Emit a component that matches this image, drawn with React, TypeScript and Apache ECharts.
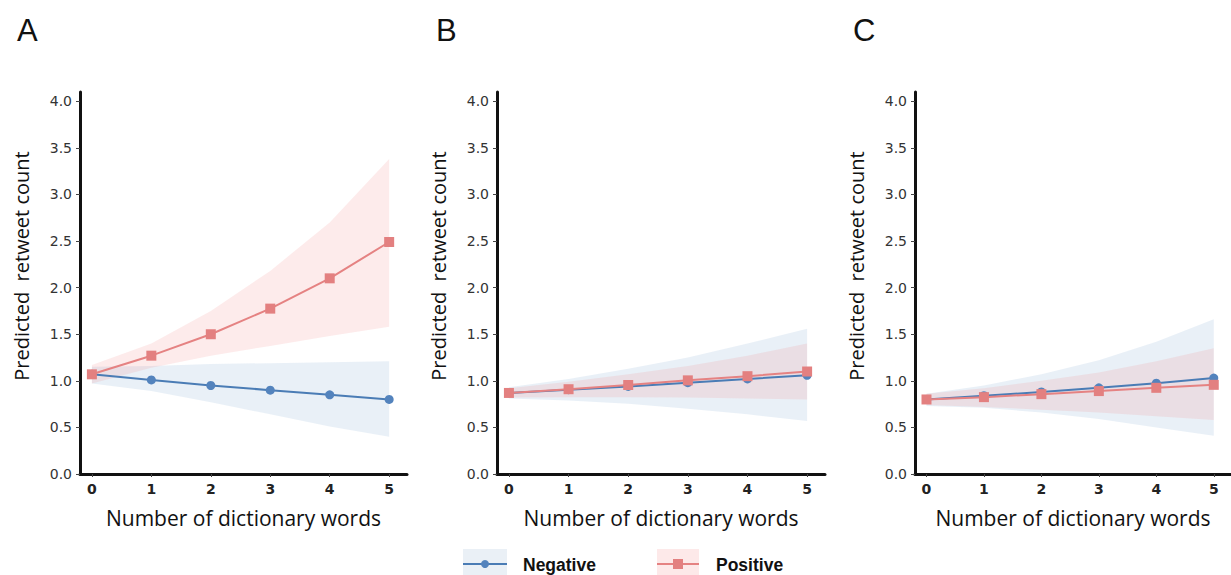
import React, { useEffect, useRef } from "react";
import * as echarts from "echarts";

const xValues = [0, 1, 2, 3, 4, 5];
const yTicks = [0, 0.5, 1, 1.5, 2, 2.5, 3, 3.5, 4];
const panelLetters = ["A", "B", "C"];
const xTitle = "Number of dictionary words";
const yTitle = "Predicted  retweet count";

// Panel A
const aNeg = [1.07, 1.01, 0.95, 0.9, 0.85, 0.8];
const aNegLo = [0.97, 0.89, 0.77, 0.64, 0.51, 0.4];
const aNegHi = [1.15, 1.16, 1.18, 1.19, 1.2, 1.21];
const aPos = [1.07, 1.27, 1.5, 1.775, 2.1, 2.49];
const aPosLo = [0.97, 1.14, 1.27, 1.375, 1.48, 1.58];
const aPosHi = [1.17, 1.4, 1.75, 2.18, 2.7, 3.38];

// Panel B
const bNeg = [0.87, 0.905, 0.94, 0.98, 1.02, 1.06];
const bNegLo = [0.81, 0.79, 0.755, 0.7, 0.64, 0.57];
const bNegHi = [0.93, 1.02, 1.13, 1.25, 1.4, 1.56];
const bPos = [0.87, 0.91, 0.955, 1.005, 1.05, 1.1];
const bPosLo = [0.82, 0.825, 0.825, 0.82, 0.81, 0.8];
const bPosHi = [0.92, 0.99, 1.07, 1.16, 1.27, 1.4];

// Panel C
const cNeg = [0.8, 0.84, 0.88, 0.925, 0.975, 1.03];
const cNegLo = [0.73, 0.71, 0.66, 0.59, 0.5, 0.41];
const cNegHi = [0.86, 0.95, 1.07, 1.22, 1.42, 1.66];
const cPos = [0.8, 0.825, 0.857, 0.89, 0.925, 0.957];
const cPosLo = [0.74, 0.72, 0.69, 0.66, 0.62, 0.58];
const cPosHi = [0.86, 0.92, 1.0, 1.09, 1.21, 1.35];

const panels = [
  { neg: aNeg, negLo: aNegLo, negHi: aNegHi, pos: aPos, posLo: aPosLo, posHi: aPosHi },
  { neg: bNeg, negLo: bNegLo, negHi: bNegHi, pos: bPos, posLo: bPosLo, posHi: bPosHi },
  { neg: cNeg, negLo: cNegLo, negHi: cNegHi, pos: cPos, posLo: cPosLo, posHi: cPosHi },
];

const gridLefts = [80, 497, 915];
const gridWidths = [327, 328, 326];
const letterX = [17, 436, 853];

const BLUE = "#4a7cb5";
const BLUE_MARK = "#5383bd";
const RED = "#e58282";
const RED_MARK = "#e38080";
const BLUE_BAND = "rgba(120,160,205,0.16)";
const RED_BAND = "rgba(240,130,130,0.16)";

function bandSeries(idx: number, lo: number[], hi: number[], color: string, name: string) {
  return {
    type: "custom",
    name,
    xAxisIndex: idx,
    yAxisIndex: idx,
    silent: true,
    z: 1,
    data: xValues.map((x, i) => [x, lo[i], hi[i]]),
    encode: { x: 0, y: [1, 2] },
    renderItem: (params: any, api: any) => {
      if (params.dataIndex !== 0) return null;
      const pts: number[][] = [];
      for (let i = 0; i < xValues.length; i++) pts.push(api.coord([xValues[i], hi[i]]));
      for (let i = xValues.length - 1; i >= 0; i--) pts.push(api.coord([xValues[i], lo[i]]));
      return { type: "polygon", shape: { points: pts }, style: { fill: color } };
    },
  };
}

function lineSeries(idx: number, vals: number[], color: string, mark: string, symbol: string, size: number, name: string) {
  return {
    type: "line",
    name,
    xAxisIndex: idx,
    yAxisIndex: idx,
    z: 3,
    data: xValues.map((x, i) => [x, vals[i]]),
    symbol,
    symbolSize: size,
    showSymbol: true,
    lineStyle: { color, width: 2 },
    itemStyle: { color: mark },
  };
}

export default function App() {
  const ref = useRef<HTMLDivElement>(null);
  useEffect(() => {
    if (!ref.current) return;
    const chart = echarts.init(ref.current, undefined, { renderer: "svg" });
    const grids = gridLefts.map((l, i) => ({ left: l, top: 92, width: gridWidths[i], height: 382 }));
    const xAxes = gridLefts.map((_, i) => ({
      type: "value",
      gridIndex: i,
      min: -0.2,
      max: 5.3,
      name: xTitle,
      nameLocation: "middle",
      nameGap: 33,
      nameTextStyle: { fontFamily: "Open Sans", fontSize: 21, color: "#111" },
      axisLine: { show: true, onZero: false, lineStyle: { color: "#111", width: 3 } },
      axisTick: { show: true, length: 3, customValues: xValues, lineStyle: { color: "#444", width: 1 } },
      axisLabel: {
        customValues: xValues,
        margin: 8,
        fontFamily: "DejaVu Sans",
        fontWeight: "bold",
        fontSize: 14,
        color: "#222",
      },
      splitLine: { show: false },
    }));
    const yAxes = gridLefts.map((_, i) => ({
      type: "value",
      gridIndex: i,
      min: 0,
      max: 4.1,
      axisLine: { show: true, onZero: false, lineStyle: { color: "#111", width: 3 } },
      axisTick: { show: true, length: 4, customValues: yTicks, lineStyle: { color: "#444", width: 1 } },
      axisLabel: {
        customValues: yTicks,
        margin: 8,
        fontFamily: "DejaVu Sans",
        fontSize: 14,
        color: "#333",
        formatter: (v: number) => v.toFixed(1),
      },
      splitLine: { show: false },
    }));
    const series: any[] = [];
    panels.forEach((p, i) => {
      series.push(bandSeries(i, p.negLo, p.negHi, BLUE_BAND, "Negative band"));
      series.push(bandSeries(i, p.posLo, p.posHi, RED_BAND, "Positive band"));
      series.push(lineSeries(i, p.neg, BLUE, BLUE_MARK, "circle", 9, "Negative"));
      series.push(lineSeries(i, p.pos, RED, RED_MARK, "rect", 10, "Positive"));
    });
    const graphic: any[] = [];
    panelLetters.forEach((t, i) => {
      graphic.push({
        type: "text",
        left: letterX[i],
        top: 15,
        style: { text: t, font: '31px "Liberation Sans"', fill: "#111" },
      });
      graphic.push({
        type: "text",
        x: gridLefts[i] - 59,
        y: 266,
        rotation: Math.PI / 2,
        style: {
          text: yTitle,
          font: '20px "Open Sans"',
          fill: "#111",
          align: "center",
          verticalAlign: "middle",
        },
      });
    });
    // legend
    graphic.push(
      { type: "rect", shape: { x: 463, y: 549, width: 44, height: 26 }, style: { fill: "#eaf0f6" } },
      { type: "line", shape: { x1: 463, y1: 564, x2: 507, y2: 564 }, style: { stroke: BLUE, lineWidth: 2 } },
      { type: "circle", shape: { cx: 485, cy: 564, r: 4 }, style: { fill: BLUE_MARK } },
      {
        type: "text",
        x: 523,
        y: 565,
        style: { text: "Negative", font: 'bold 17.5px "Liberation Sans"', fill: "#111", verticalAlign: "middle" },
      },
      { type: "rect", shape: { x: 657, y: 549, width: 42, height: 26 }, style: { fill: "#fde9e9" } },
      { type: "line", shape: { x1: 657, y1: 564, x2: 699, y2: 564 }, style: { stroke: RED, lineWidth: 2 } },
      { type: "rect", shape: { x: 673, y: 559, width: 10, height: 10 }, style: { fill: RED_MARK } },
      {
        type: "text",
        x: 716,
        y: 565,
        style: { text: "Positive", font: 'bold 17.5px "Liberation Sans"', fill: "#111", verticalAlign: "middle" },
      }
    );
    chart.setOption({
      animation: false,
      backgroundColor: "#fff",
      grid: grids,
      xAxis: xAxes,
      yAxis: yAxes,
      series,
      graphic,
    });
    return () => chart.dispose();
  }, []);
  return (
    <div
      ref={ref}
      style={{ position: "fixed", left: 0, top: 0, width: 1231, height: 575 }}
    />
  );
}
